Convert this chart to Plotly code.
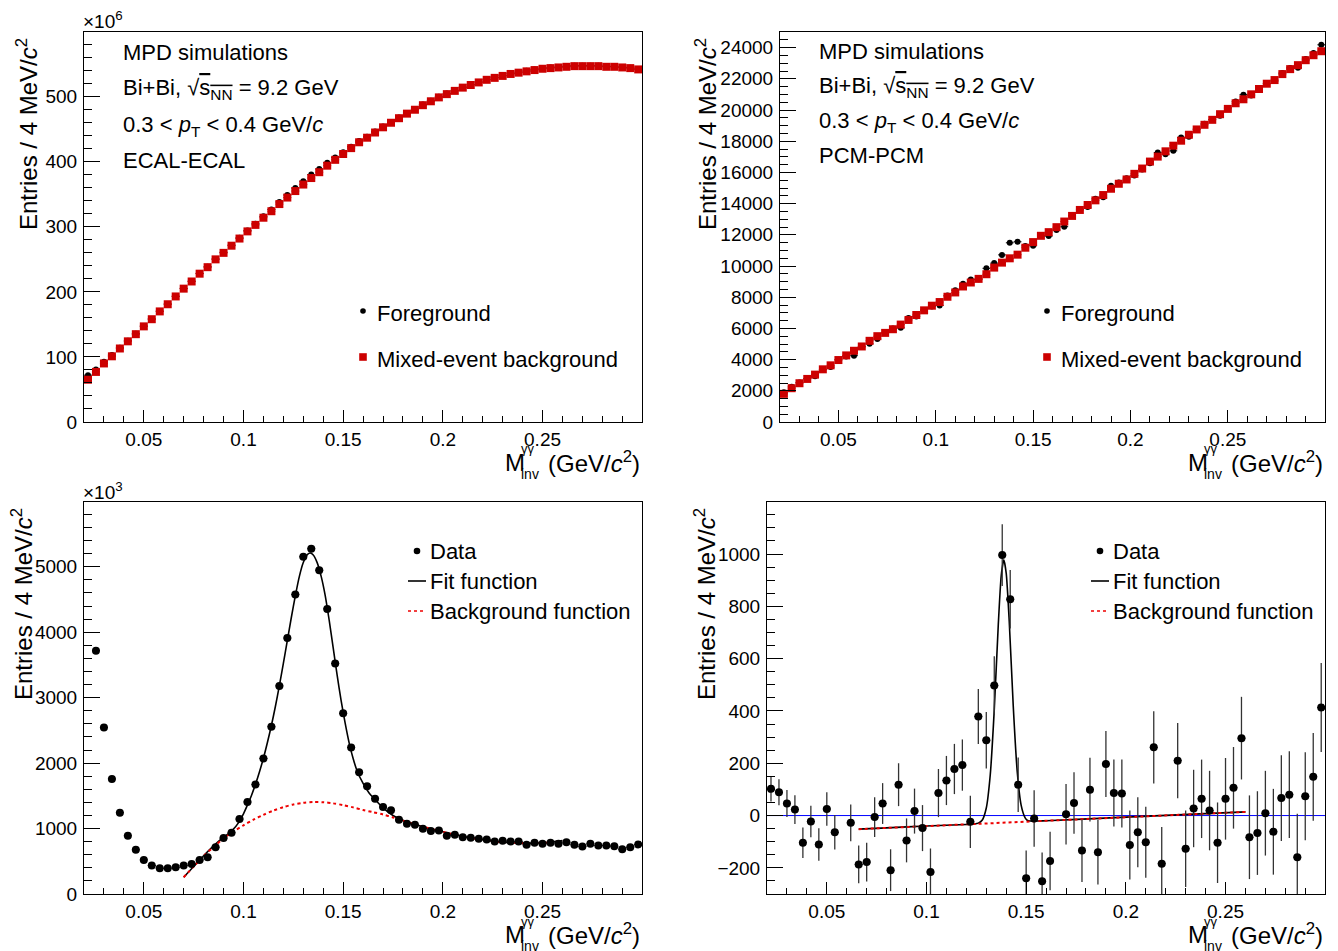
import plotly.graph_objects as go

W, H = 1338, 951
FONT = "Liberation Sans, Arial, Helvetica, sans-serif"

# ---------------- data ----------------
# bin centres of the 4 MeV/c^2 invariant-mass bins (GeV/c^2)
MASS = [0.022, 0.026, 0.030, 0.034, 0.038, 0.042, 0.046, 0.050, 0.054, 0.058,
        0.062, 0.066, 0.070, 0.074, 0.078, 0.082, 0.086, 0.090, 0.094, 0.098,
        0.102, 0.106, 0.110, 0.114, 0.118, 0.122, 0.126, 0.130, 0.134, 0.138,
        0.142, 0.146, 0.150, 0.154, 0.158, 0.162, 0.166, 0.170, 0.174, 0.178,
        0.182, 0.186, 0.190, 0.194, 0.198, 0.202, 0.206, 0.210, 0.214, 0.218,
        0.222, 0.226, 0.230, 0.234, 0.238, 0.242, 0.246, 0.250, 0.254, 0.258,
        0.262, 0.266, 0.270, 0.274, 0.278, 0.282, 0.286, 0.290, 0.294, 0.298]

# ECAL-ECAL (x 10^6)
ECAL_FG = [72, 80.7, 92.5, 102.8, 114.2, 124.9, 135.7, 147.5, 158.4, 170.4,
           181.4, 193.4, 205.4, 216.5, 228.5, 238.6, 250.7, 260.9, 271.9, 283.1,
           294.4, 304.7, 316.1, 326.6, 338.2, 348.9, 359.6, 370.2, 380.3, 388.9,
           398.4, 406.5, 414.8, 423.2, 431.9, 438.6, 446.5, 454.3, 461.3, 468.1,
           475.1, 481.1, 488.0, 494.0, 500.0, 504.9, 509.9, 514.9, 518.9, 522.8,
           526.8, 529.8, 532.8, 535.8, 537.8, 539.8, 541.8, 543.8, 544.8, 545.8,
           546.8, 547.8, 547.7, 547.8, 547.7, 546.7, 546.7, 545.7, 544.7, 542.8]
ECAL_MIX = [65, 77, 90, 101, 113, 124, 135, 147, 158, 170,
            181, 193, 205, 216, 228, 238, 250, 260, 271, 282,
            293, 303, 314, 324, 335, 345, 355, 365, 375, 384,
            394, 403, 412, 421, 430, 437, 445, 453, 460, 467,
            474, 480, 487, 493, 499, 504, 509, 514, 518, 522,
            526, 529, 532, 535, 537, 539, 541, 543, 544, 545,
            546, 547, 547, 547, 547, 546, 546, 545, 544, 542]

# PCM-PCM
PCM_FG = [1907, 2255, 2531, 2784, 2933, 3354, 3521, 3997, 4205, 4250,
          4814, 5017, 5323, 5707, 5993, 6035, 6660, 6765, 7175, 7407,
          7473, 8114, 8439, 8865, 9135, 9151, 9852, 10185, 10713, 11488,
          11553, 11290, 11293, 11925, 11919, 12315, 12520, 13216, 13641, 13777,
          14308, 14409, 15149, 15357, 15631, 15795, 16184, 16592, 17274, 17168,
          17383, 18242, 18287, 18781, 19115, 19389, 19627, 20135, 20538, 20983,
          20922, 21278, 21694, 21857, 22368, 22700, 22716, 23267, 23660, 24180]
PCM_MIX = [1805, 2166, 2485, 2761, 3037, 3377, 3632, 3972, 4269, 4566,
           4842, 5204, 5501, 5713, 5947, 6244, 6542, 6860, 7158, 7455,
           7689, 8028, 8305, 8687, 8942, 9175, 9473, 9897, 10216, 10492,
           10726, 11172, 11533, 11936, 12170, 12489, 12850, 13211, 13593, 13911,
           14209, 14549, 14952, 15271, 15547, 15908, 16248, 16694, 17013, 17352,
           17713, 18032, 18414, 18754, 19051, 19370, 19731, 20071, 20432, 20687,
           21005, 21345, 21685, 21919, 22301, 22620, 22875, 23193, 23512, 23767]

# ECAL-ECAL after background subtraction (x 10^3), first bin off scale
ECAL_SUB = [None, 3717, 2546, 1759, 1242, 890, 675, 521, 435, 394,
            394, 409, 435, 460, 521, 562, 716, 854, 936, 1145,
            1406, 1672, 2071, 2556, 3180, 3911, 4576, 5153, 5276, 4949,
            4356, 3522, 2761, 2239, 1861, 1646, 1457, 1329, 1278, 1135,
            1074, 1058, 997, 961, 971, 890, 905, 869, 859, 844,
            833, 803, 813, 803, 803, 752, 782, 767, 782, 767,
            792, 752, 726, 767, 741, 741, 731, 685, 716, 757]

ECAL_FIT_X = [0.070, 0.075, 0.080, 0.085, 0.090, 0.094, 0.098, 0.100, 0.102, 0.104,
              0.106, 0.108, 0.110, 0.112, 0.114, 0.116, 0.118, 0.120, 0.122, 0.124,
              0.126, 0.128, 0.130, 0.132, 0.1335, 0.135, 0.137, 0.139, 0.141, 0.143,
              0.145, 0.147, 0.149, 0.151, 0.153, 0.155, 0.157, 0.160, 0.163, 0.166,
              0.170, 0.175, 0.180, 0.185, 0.190, 0.195, 0.200, 0.205, 0.210, 0.215,
              0.220, 0.225, 0.230, 0.235, 0.240, 0.245, 0.250, 0.255, 0.260]
ECAL_FIT_Y = [256, 420, 585, 735, 868, 960, 1110, 1225, 1360, 1505,
              1675, 1865, 2075, 2315, 2575, 2865, 3185, 3525, 3875, 4225,
              4555, 4850, 5065, 5185, 5210, 5180, 5060, 4850, 4560, 4180,
              3760, 3340, 2950, 2610, 2310, 2070, 1880, 1690, 1545, 1445,
              1315, 1200, 1128, 1074, 1029, 990, 950, 915, 880, 852,
              828, 808, 792, 782, 777, 777, 782, 795, 815]
ECAL_BKG_X = [0.070, 0.075, 0.080, 0.085, 0.090, 0.095, 0.100, 0.105, 0.110, 0.115,
              0.120, 0.125, 0.130, 0.135, 0.140, 0.145, 0.150, 0.155, 0.160, 0.165,
              0.170, 0.175, 0.180, 0.185, 0.190, 0.195, 0.200, 0.205, 0.210, 0.215,
              0.220, 0.225, 0.230, 0.235, 0.240, 0.245, 0.250, 0.255, 0.260]
ECAL_BKG_Y = [256, 420, 580, 720, 848, 955, 1050, 1135, 1210, 1275,
              1328, 1368, 1394, 1406, 1402, 1385, 1358, 1324, 1284, 1250,
              1215, 1170, 1120, 1072, 1028, 988, 948, 914, 880, 852,
              828, 808, 792, 782, 777, 777, 782, 795, 815]

# PCM-PCM after background subtraction
PCM_SUB = [102, 89, 46, 23, -104, -23, -111, 25, -64, None,
           -28, -187, -178, -6, 46, -209, 118, -95, 17, -48,
           -216, 86, 134, 178, 193, -24, 379, 288, 497, 996,
           827, 118, -240, -11, -251, -174, None, 5, 48, -134,
           99, -140, 197, 86, 84, -113, -64, -102, 261, -184,
           None, 210, -127, 27, 64, 19, -104, 64, 106, 296,
           -83, -67, 9, -62, 67, 80, -159, 74, 148, 413]
PCM_SUB_ERR = [48, 50, 52, 55, 58, 60, 62, 64, 66, None,
               70, 72, 74, 76, 78, 80, 82, 84, 86, 88,
               90, 92, 94, 96, 98, 100, 105, 108, 112, 118,
               112, 104, 106, 108, 110, 112, None, 116, 118, 120,
               122, 124, 126, 128, 130, 132, 134, 136, 138, 140,
               None, 144, 146, 148, 150, 152, 154, 156, 156, 158,
               160, 160, 162, 164, 164, 166, 166, 168, 168, 170]

PCM_FIT_X = [0.066, 0.080, 0.100, 0.120, 0.124, 0.126, 0.128, 0.130, 0.132, 0.134,
             0.136, 0.1375, 0.1388, 0.140, 0.1415, 0.1435, 0.1455, 0.1475, 0.1495, 0.1505,
             0.152, 0.156, 0.160, 0.200, 0.260]
PCM_FIT_Y = [-52, -47, -40, -34, -32, -29, -17, 29, 157, 405,
             727, 918, 978, 926, 744, 422, 170, 39, -9, -18,
             -21, -21, -20, -6, 14]
PCM_BKG_X = [0.066, 0.260]
PCM_BKG_Y = [-52, 14]

BIN_HALF = 0.002

BLACK = "black"
RED_MARK = "#cc0000"
RED_LINE = "#ee0000"


def px(x):
    return x / W


def py(y):
    return 1 - y / H


fig = go.Figure()

ex = dict(type="constant", value=BIN_HALF, thickness=1, width=0, color="black")

# top-left
fig.add_trace(go.Scatter(x=MASS, y=ECAL_FG, mode="markers", xaxis="x", yaxis="y",
                         marker=dict(symbol="circle", size=6, color=BLACK),
                         error_x=ex, showlegend=False))
fig.add_trace(go.Scatter(x=MASS, y=ECAL_MIX, mode="markers", xaxis="x", yaxis="y",
                         marker=dict(symbol="square", size=8, color=RED_MARK),
                         error_x=dict(ex, color=RED_MARK), showlegend=False))
# top-right
fig.add_trace(go.Scatter(x=MASS, y=PCM_FG, mode="markers", xaxis="x2", yaxis="y2",
                         marker=dict(symbol="circle", size=6, color=BLACK),
                         error_x=ex, showlegend=False))
fig.add_trace(go.Scatter(x=MASS, y=PCM_MIX, mode="markers", xaxis="x2", yaxis="y2",
                         marker=dict(symbol="square", size=8, color=RED_MARK),
                         error_x=dict(ex, color=RED_MARK), showlegend=False))
# bottom-left
fig.add_trace(go.Scatter(x=ECAL_FIT_X, y=ECAL_FIT_Y, mode="lines", xaxis="x3", yaxis="y3",
                         line=dict(color=BLACK, width=1.6, shape="spline", smoothing=0.8),
                         showlegend=False))
fig.add_trace(go.Scatter(x=ECAL_BKG_X, y=ECAL_BKG_Y, mode="lines", xaxis="x3", yaxis="y3",
                         line=dict(color=RED_LINE, width=2, dash="dot", shape="spline", smoothing=0.8),
                         showlegend=False))
fig.add_trace(go.Scatter(x=MASS, y=ECAL_SUB, mode="markers", xaxis="x3", yaxis="y3",
                         marker=dict(symbol="circle", size=8, color=BLACK),
                         error_x=ex, showlegend=False))
# bottom-right
fig.add_trace(go.Scatter(x=PCM_FIT_X, y=PCM_FIT_Y, mode="lines", xaxis="x4", yaxis="y4",
                         line=dict(color=BLACK, width=1.6, shape="spline", smoothing=0.6),
                         showlegend=False))
fig.add_trace(go.Scatter(x=PCM_BKG_X, y=PCM_BKG_Y, mode="lines", xaxis="x4", yaxis="y4",
                         line=dict(color=RED_LINE, width=2, dash="dot"),
                         showlegend=False))
fig.add_trace(go.Scatter(x=MASS, y=PCM_SUB, mode="markers", xaxis="x4", yaxis="y4",
                         marker=dict(symbol="circle", size=8, color=BLACK),
                         error_x=ex,
                         error_y=dict(type="data", array=PCM_SUB_ERR, thickness=1.3, width=0, color="#333333"),
                         showlegend=False))

# horizontal zero line (bottom-right)
fig.add_shape(type="line", xref="x4 domain", yref="y4", x0=0, x1=1, y0=0, y1=0,
              line=dict(color="#0000ff", width=1), layer="below")


# ---------------- axes ----------------
def xaxis(domain, anchor):
    return dict(domain=domain, anchor=anchor, range=[0.02, 0.2999], tick0=0, dtick=0.05,
                ticks="inside", ticklen=12, tickwidth=1, tickcolor="black",
                showline=True, linecolor="black", linewidth=1, mirror=True,
                showgrid=False, zeroline=False, automargin=False,
                tickfont=dict(family=FONT, size=19, color="black"),
                minor=dict(ticks="inside", ticklen=6, tickwidth=1, tickcolor="black",
                           tick0=0, dtick=0.01, showgrid=False))


def yaxis(domain, anchor, rng, dtick, mdtick):
    return dict(domain=domain, anchor=anchor, range=rng, tick0=0, dtick=dtick,
                ticks="inside", ticklen=16, tickwidth=1, tickcolor="black",
                showline=True, linecolor="black", linewidth=1, mirror=True,
                showgrid=False, zeroline=False, ticklabelstandoff=2, tickformat="d",
                automargin=False,
                tickfont=dict(family=FONT, size=19, color="black"),
                minor=dict(ticks="inside", ticklen=8, tickwidth=1, tickcolor="black",
                           tick0=0, dtick=mdtick, showgrid=False))


XL = [px(84), px(642)]
XR_T = [px(780), px(1325)]
XR_B = [px(767), px(1325)]
YT = [py(422), py(32)]
YB = [py(894), py(502)]

fig.update_layout(
    width=W, height=H, margin=dict(l=0, r=0, t=0, b=0, pad=0, autoexpand=False),
    paper_bgcolor="white", plot_bgcolor="white",
    font=dict(family=FONT, color="black"),
    xaxis=xaxis(XL, "y"), yaxis=yaxis(YT, "x", [0, 599.5], 100, 20),
    xaxis2=xaxis(XR_T, "y2"), yaxis2=yaxis(YT, "x2", [0, 25000], 2000, 500),
    xaxis3=xaxis(XL, "y3"), yaxis3=yaxis(YB, "x3", [0, 5990], 1000, 200),
    xaxis4=xaxis(XR_B, "y4"), yaxis4=yaxis(YB, "x4", [-300, 1199], 200, 50),
)

ann = []


def text(x, y, s, size=22, xa="left", ya="middle", angle=0):
    ann.append(dict(xref="paper", yref="paper", x=px(x), y=py(y), text=s, showarrow=False,
                    xanchor=xa, yanchor=ya, textangle=angle,
                    font=dict(family=FONT, size=size, color="black")))


# y titles
YTITLE = "Entries / 4 MeV/<i>c</i><sup>2</sup>"
for xx, yy in [(27, 36), (706, 36), (22, 506), (705, 506)]:
    text(xx, yy, YTITLE, size=24, xa="center", ya="top", angle=-90)

# x titles
for xr, yb in [(642, 0), (1325, 0), (642, 472), (1325, 472)]:
    text(xr, 462 + yb, "(GeV/<i>c</i><sup>2</sup>)", size=24, xa="right", ya="middle")
    text(xr - 139, 462 + yb, "M", size=24, xa="left", ya="middle")
    text(xr - 123, 449 + yb, "γγ", size=13, xa="left", ya="middle")
    text(xr - 123, 474 + yb, "inv", size=14, xa="left", ya="middle")

# exponents
text(81, 20, "×10<sup>6</sup>", size=19, xa="left", ya="middle")
text(81, 491, "×10<sup>3</sup>", size=19, xa="left", ya="middle")

# info texts
SQRT = "Bi+Bi, √<span style='text-decoration:overline'>s<sub>NN</sub></span> = 9.2 GeV"
PT = "0.3 &lt; <i>p</i><sub>T</sub> &lt; 0.4 GeV/<i>c</i>"
for x0, ys, lab in [(121, [53, 89, 126, 160], "ECAL-ECAL"), (817, [52, 87, 122, 156], "PCM-PCM")]:
    text(x0, ys[0], "MPD simulations")
    text(x0, ys[1], SQRT)
    text(x0, ys[2], PT)
    text(x0, ys[3], lab)

# legends (top)
for mx in [363, 1047]:
    text(mx + 12, 314, "Foreground")
    text(mx + 12, 359, "Mixed-event background")
    fig.add_shape(type="circle", xref="paper", yref="paper",
                  x0=px(mx - 2.8), x1=px(mx + 2.8), y0=py(311 + 2.8), y1=py(311 - 2.8),
                  fillcolor="black", line=dict(width=0))
    fig.add_shape(type="rect", xref="paper", yref="paper",
                  x0=px(mx - 3.8), x1=px(mx + 3.8), y0=py(357 + 3.8), y1=py(357 - 3.8),
                  fillcolor=RED_MARK, line=dict(width=0))

# legends (bottom)
for mx in [417, 1100]:
    text(mx + 11, 551, "Data")
    text(mx + 11, 581, "Fit function")
    text(mx + 11, 611, "Background function")
    fig.add_shape(type="circle", xref="paper", yref="paper",
                  x0=px(mx - 3.3), x1=px(mx + 3.3), y0=py(551 + 3.3), y1=py(551 - 3.3),
                  fillcolor="black", line=dict(width=0))
    fig.add_shape(type="line", xref="paper", yref="paper",
                  x0=px(mx - 9), x1=px(mx + 9), y0=py(581), y1=py(581),
                  line=dict(color="black", width=1.6))
    fig.add_shape(type="line", xref="paper", yref="paper",
                  x0=px(mx - 9), x1=px(mx + 9), y0=py(611), y1=py(611),
                  line=dict(color=RED_LINE, width=1.6, dash="dot"))

fig.update_layout(annotations=ann)
fig.write_html("out.html",
               config={"displayModeBar": False},
               post_script="document.body.style.margin='0px';"
                           "document.body.style.overflow='hidden';")
